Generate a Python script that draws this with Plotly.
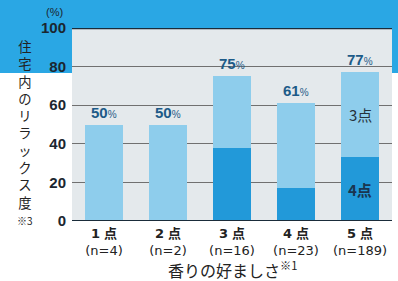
import plotly.graph_objects as go

categories = ["1 点", "2 点", "3 点", "4 点", "5 点"]
sample_sizes = ["(n=4)", "(n=2)", "(n=16)", "(n=23)", "(n=189)"]
score4_share = [0, 0, 38, 17, 33]      # 4点 portion (dark)
score3_share = [50, 50, 37, 44, 44]    # 3点 portion (light)
totals = [50, 50, 75, 61, 77]
y_ticks = [0, 20, 40, 60, 80, 100]
y_title = "住宅内のリラックス度"
x_title = "香りの好ましさ"

JP = "Noto Sans CJK JP, Liberation Sans"
TICKF = "DejaVu Sans, Noto Sans CJK JP"
BLUE = "#2aa7e4"
LIGHT = "#8ecdec"
DARK = "#2299d9"
LABEL = "#1d5b88"

W, H = 398, 281
L, R, T, B = 72, 6, 28, 60
pw, ph = W - L - R, H - T - B

fig = go.Figure()
fig.add_trace(go.Bar(x=categories, y=score4_share, marker=dict(color=DARK, line_width=0), name="4点"))
fig.add_trace(go.Bar(x=categories, y=score3_share, marker=dict(color=LIGHT, line_width=0), name="3点"))

ticktext = [f"<b>{c.split()[0]}</b> <span style='font-family:Noto Sans CJK JP'><b>点</b></span><br>{n}"
            for c, n in zip(categories, sample_sizes)]

fig.update_layout(
    width=W, height=H, barmode="stack", bargap=0.42, showlegend=False,
    margin=dict(l=L, r=R, t=T, b=B, pad=0),
    paper_bgcolor="white", plot_bgcolor="#e4e9ec",
    font=dict(family=JP, color="#222"),
    xaxis=dict(tickmode="array", tickvals=categories, ticktext=ticktext,
               tickfont=dict(size=13, family=TICKF, color="#222"), ticks="", showgrid=False,
               ticklabelstandoff=3),
    yaxis=dict(range=[0, 100], tickvals=y_ticks, ticks="", showgrid=True,
               gridcolor="#707070", gridwidth=1, zeroline=False,
               tickfont=dict(size=15, family="Liberation Sans", color="#1b2630", weight="bold"),
               ticklabelstandoff=5),
)

def px_x(p):
    return -L / pw + p / pw

def px_y(p):
    return (T + ph - p) / ph

shapes = [
    dict(type="rect", xref="paper", yref="paper", x0=px_x(0), x1=px_x(W), y0=px_y(0), y1=1, fillcolor=BLUE, line_width=0, layer="below"),
    dict(type="rect", xref="paper", yref="paper", x0=px_x(0), x1=0, y0=px_y(73), y1=px_y(0), fillcolor=BLUE, line_width=0, layer="below"),
    dict(type="rect", xref="paper", yref="paper", x0=1, x1=px_x(W), y0=px_y(73), y1=px_y(0), fillcolor=BLUE, line_width=0, layer="below"),
    dict(type="line", xref="paper", yref="y", x0=0, x1=1, y0=100, y1=100, line=dict(color="#1a2c3a", width=2.5)),
    dict(type="line", xref="paper", yref="y", x0=0, x1=1, y0=0, y1=0, line=dict(color="#1a2c3a", width=2)),
]
fig.update_layout(shapes=shapes)

ann = []
for c, t in zip(categories, totals):
    ann.append(dict(x=c, y=t, xref="x", yref="y", xanchor="center", yanchor="bottom", yshift=2, showarrow=False,
                    text=f"<b>{t}</b><span style='font-size:10px'>%</span>",
                    font=dict(size=15, family="Liberation Sans", color=LABEL)))
ann.append(dict(x=categories[4], y=score4_share[4] + score3_share[4] / 2, xref="x", yref="y",
                xanchor="center", yanchor="middle", showarrow=False,
                text="3点", font=dict(size=15, family=JP, color="#26323c")))
ann.append(dict(x=categories[4], y=score4_share[4] / 2, xref="x", yref="y",
                xanchor="center", yanchor="middle", showarrow=False,
                text="<b>4点</b>", font=dict(size=15, family=JP, color="#1a3550")))
# vertical y-axis title: stacked characters, with ※3 below
ann.append(dict(x=px_x(25), y=px_y(36), xref="paper", yref="paper",
                xanchor="center", yanchor="top", showarrow=False, borderpad=0,
                text="<br>".join(y_title) + "<br><span style='font-size:10px'>※3</span>",
                font=dict(size=13.3, family=JP, color="#222")))
ann.append(dict(x=px_x(54), y=px_y(12), xref="paper", yref="paper", xanchor="center", yanchor="middle",
                showarrow=False, text="(%)", font=dict(size=11, family="Liberation Sans", color="#1b2630")))
ann.append(dict(x=px_x(232), y=px_y(269), xref="paper", yref="paper", xanchor="center", yanchor="middle",
                showarrow=False, text=x_title + "<sup>※1</sup>", font=dict(size=16, family=JP, color="#222")))
fig.update_layout(annotations=ann)

fig.write_html("out.html", config={"displayModeBar": False},
               post_script="document.body.style.margin='0';document.body.style.overflow='hidden';")
